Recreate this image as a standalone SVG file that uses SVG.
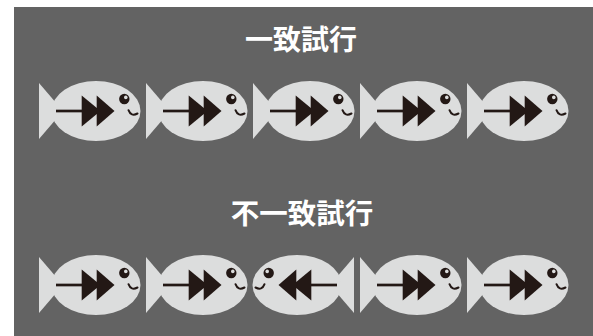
<svg xmlns="http://www.w3.org/2000/svg" xmlns:xlink="http://www.w3.org/1999/xlink" width="593" height="336" viewBox="0 0 593 336">
  <style>
    .title { font-family: "Noto Sans CJK JP", "Noto Sans CJK SC", sans-serif; font-weight: 700; fill: #ffffff; text-anchor: middle; }
    .fishbody { fill: #dcdddd; }
    .ink { fill: #231815; }
    .inkline { fill: none; stroke: #231815; }
  </style>
  <defs>
    <!-- fish facing right; origin at tail's left edge, vertical centre line -->
    <g id="fish">
      <polygon class="fishbody" points="0,-28 24,0 0,28"/>
      <ellipse class="fishbody" cx="57" cy="0" rx="44.5" ry="30"/>
      <line class="inkline" x1="17" y1="0" x2="46" y2="0" stroke-width="2.7"/>
      <polygon class="ink" points="42.7,-15.5 61.5,0 42.7,15.5"/>
      <polygon class="ink" points="57.7,-15.5 75.5,0 57.7,15.5"/>
      <circle class="ink" cx="85.3" cy="-12" r="5.2"/>
      <circle class="fishbody" cx="86.8" cy="-13.6" r="1.8"/>
      <path class="inkline" d="M89.5,-0.8 Q92,6 98.5,2.5" stroke-width="2" stroke-linecap="round"/>
    </g>
  </defs>

  <rect x="14" y="7" width="579" height="329" fill="#636363"/>

  <text class="title" x="301" y="50" font-size="28">一致試行</text>
  <text class="title" x="302" y="224" font-size="28.5">不一致試行</text>

  <g id="congruent">
    <use id="c1" xlink:href="#fish" transform="translate(39,111)"/>
    <use id="c2" xlink:href="#fish" transform="translate(146,111)"/>
    <use id="c3" xlink:href="#fish" transform="translate(253,111)"/>
    <use id="c4" xlink:href="#fish" transform="translate(360,111)"/>
    <use id="c5" xlink:href="#fish" transform="translate(467,111)"/>
  </g>

  <g id="incongruent">
    <use id="i1" xlink:href="#fish" transform="translate(39,285)"/>
    <use id="i2" xlink:href="#fish" transform="translate(146,285)"/>
    <use id="i3" xlink:href="#fish" transform="translate(354,285) scale(-1,1)"/>
    <use id="i4" xlink:href="#fish" transform="translate(360,285)"/>
    <use id="i5" xlink:href="#fish" transform="translate(467,285)"/>
  </g>
</svg>
